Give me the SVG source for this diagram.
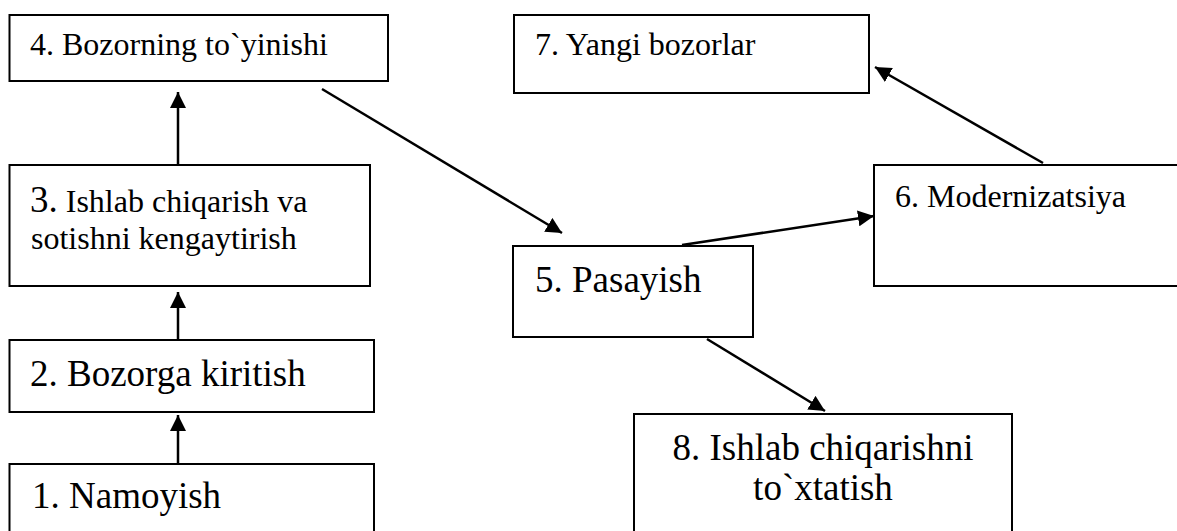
<svg xmlns="http://www.w3.org/2000/svg" width="1177" height="531" viewBox="0 0 1177 531">
<style>
.box{fill:#fff;stroke:#000;stroke-width:2}
.t{font-family:"Liberation Serif","Times New Roman",serif;fill:#000}
.l{font-size:37px}
.s{font-size:32px}
.c{stroke:#000;stroke-width:2.5;fill:none;marker-end:url(#ah)}
</style>
<defs>
<marker id="ah" markerUnits="userSpaceOnUse" markerWidth="17" markerHeight="16" refX="16" refY="8" orient="auto">
<path d="M0,0 L16,8 L0,16 Z" fill="#000"/>
</marker>
</defs>
<rect width="1177" height="531" fill="#fff"/>
<g id="connectors">
<line class="c" x1="178" y1="464" x2="178" y2="415"/>
<line class="c" x1="178" y1="340" x2="178" y2="292"/>
<line class="c" x1="178" y1="165" x2="178" y2="92"/>
<line class="c" x1="322" y1="89" x2="562" y2="233"/>
<line class="c" x1="682" y1="245" x2="874" y2="216"/>
<line class="c" x1="1043" y1="163" x2="875" y2="67"/>
<line class="c" x1="707" y1="339" x2="825" y2="411"/>
</g>
<g id="n4">
<rect class="box" x="9.5" y="15" width="378.5" height="66"/>
<text class="t s" x="30" y="55">4. Bozorning to`yinishi</text>
</g>
<g id="n3">
<rect class="box" x="9.5" y="165" width="360.5" height="121"/>
<text class="t s" x="30" y="212"><tspan class="l">3.</tspan> Ishlab chiqarish va</text>
<text class="t s" x="31" y="249">sotishni kengaytirish</text>
</g>
<g id="n2">
<rect class="box" x="9.5" y="340" width="364.5" height="72"/>
<text class="t l" x="30" y="386">2. Bozorga kiritish</text>
</g>
<g id="n1">
<rect class="box" x="9.5" y="464" width="364.5" height="80"/>
<text class="t l" x="32" y="508">1. Namoyish</text>
</g>
<g id="n7">
<rect class="box" x="514" y="15" width="355" height="78"/>
<text class="t s" x="535" y="55">7. Yangi bozorlar</text>
</g>
<g id="n5">
<rect class="box" x="513" y="246" width="240" height="91"/>
<text class="t l" x="535" y="292">5. Pasayish</text>
</g>
<g id="n6">
<rect class="box" x="874" y="165" width="320" height="121"/>
<text class="t s" x="895" y="207">6. Modernizatsiya</text>
</g>
<g id="n8">
<rect class="box" x="634" y="414" width="378" height="130"/>
<text class="t l" x="823" y="460" text-anchor="middle">8. Ishlab chiqarishni</text>
<text class="t l" x="823" y="500" text-anchor="middle">to`xtatish</text>
</g>
</svg>
